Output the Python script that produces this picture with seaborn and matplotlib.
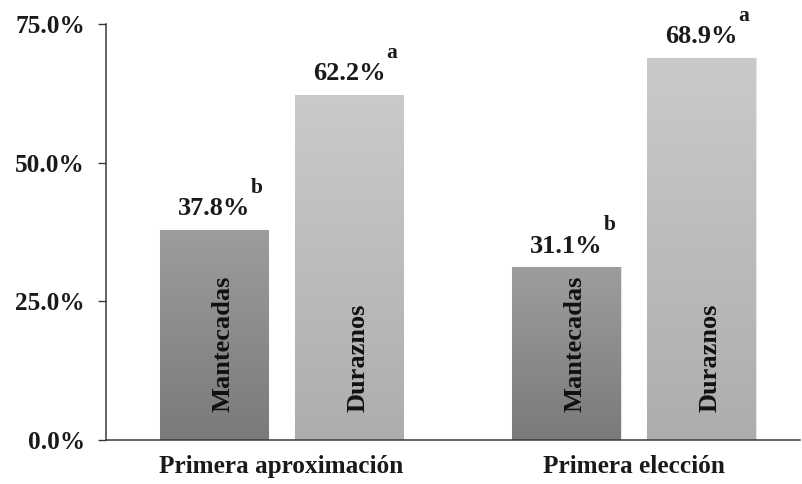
import numpy as np
import pandas as pd
import matplotlib
matplotlib.use("Agg")
import matplotlib.pyplot as plt
from matplotlib.colors import LinearSegmentedColormap
import seaborn as sns

# Data
groups = ["Primera aproximación", "Primera elección"]
items = ["Mantecadas", "Duraznos"]
mantecadas = [37.8, 31.1]
duraznos = [62.2, 68.9]
letters_mantecadas = ["b", "b"]
letters_duraznos = ["a", "a"]
y_ticks = [0, 25, 50, 75]

df = pd.DataFrame({
    "grupo": groups * 2,
    "producto": [items[0]] * 2 + [items[1]] * 2,
    "valor": mantecadas + duraznos,
    "letra": letters_mantecadas + letters_duraznos,
})

sns.set_style("white")
plt.rcParams["font.family"] = ["Liberation Serif", "DejaVu Serif"]
plt.rcParams["font.weight"] = "bold"

FS_AXIS = 18.2
FS_BAR = 19
INK = "#1a1a1a"

fig = plt.figure(figsize=(8.02, 4.84), dpi=100)
ax = fig.add_axes([106 / 802, 44 / 484, 694 / 802, 416 / 484])

mid_colors = {"Mantecadas": "#8c8c8c", "Duraznos": "#bdbdbd"}
sns.barplot(data=df, x="grupo", y="valor", hue="producto", order=groups,
            hue_order=items, palette=mid_colors, width=0.766, gap=0.193,
            legend=False, ax=ax, edgecolor="none", saturation=1)

# vertical gradient fill for each bar
grad = {
    "Mantecadas": LinearSegmentedColormap.from_list("m", ["#7a7a7a", "#9d9d9d"]),
    "Duraznos": LinearSegmentedColormap.from_list("d", ["#adadad", "#cacaca"]),
}
ramp = np.linspace(0, 1, 256).reshape(-1, 1)
bars = list(ax.patches)
for bar, (_, row) in zip(bars, df.iterrows()):
    x0 = bar.get_x()
    w = bar.get_width()
    h = bar.get_height()
    im = ax.imshow(ramp, cmap=grad[row["producto"]], origin="lower",
                   extent=[x0, x0 + w, 0, h], aspect="auto",
                   zorder=bar.get_zorder() + 0.1, interpolation="bilinear")
    im.set_clip_path(bar)
    bar.set_edgecolor("#e6e6e6")
    bar.set_linewidth(0.8)

    cx = x0 + w / 2
    val = ax.text(cx, h + 2.7, f"{h:.1f}%", ha="center", va="baseline",
                  fontsize=FS_BAR, fontweight="bold", color=INK, zorder=5)
    # significance letter as a superscript right after the value label
    ax.annotate(row["letra"], xy=(1, 0), xycoords=val, xytext=(0.5, 19.5),
                textcoords="offset points", ha="left", va="baseline",
                fontsize=FS_AXIS * 0.85, fontweight="bold", color=INK, zorder=5)
    ax.text(cx + 0.025, 5.0, row["producto"], rotation=90, ha="center", va="bottom",
            fontsize=FS_BAR, fontweight="bold", color="#111111", zorder=5)

ax.set_xlim(-0.498, 1.471)
ax.set_ylim(0, 75)

ax.set_yticks(y_ticks)
ax.set_yticklabels([f"{v:.1f}%" for v in y_ticks], fontsize=FS_AXIS, fontweight="bold",
                   color=INK)
ax.tick_params(axis="y", direction="out", length=5.8, width=1, color="#3a3a3a",
               pad=9.5, left=True)
ax.tick_params(axis="x", length=0, pad=11)
for lab in ax.get_xticklabels():
    lab.set_fontsize(FS_AXIS)
    lab.set_fontweight("bold")
    lab.set_color(INK)

ax.set_xlabel("")
ax.set_ylabel("")
for side in ["top", "right"]:
    ax.spines[side].set_visible(False)
for side in ["left", "bottom"]:
    ax.spines[side].set_color("#3a3a3a")
    ax.spines[side].set_linewidth(1.1)

fig.savefig("out.png", dpi=100)
